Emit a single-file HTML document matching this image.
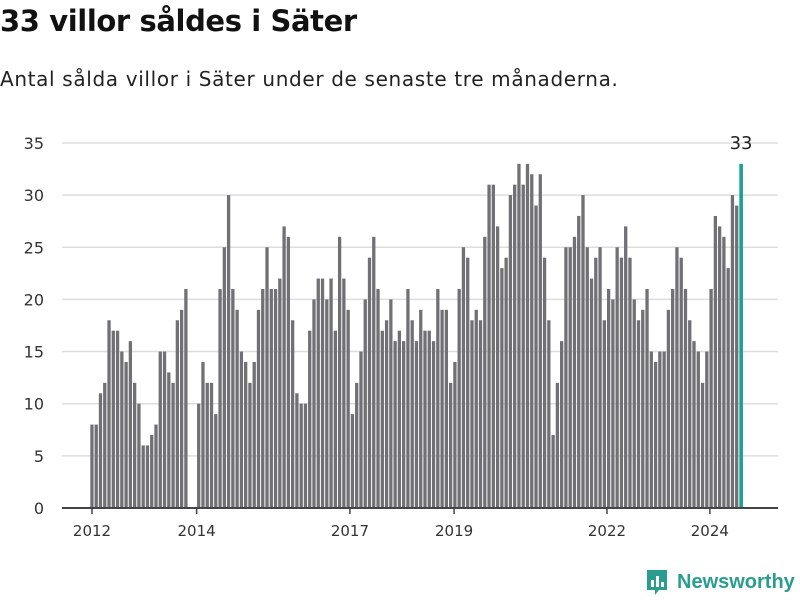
<!DOCTYPE html>
<html><head><meta charset="utf-8"><style>
body{margin:0;width:800px;height:600px;background:#fff;font-family:"Liberation Sans","DejaVu Sans",sans-serif;overflow:hidden;position:relative}
h1{position:absolute;left:0;top:4px;margin:0;font-family:"DejaVu Sans",sans-serif;font-size:29px;font-weight:bold;color:#111;letter-spacing:-0.4px}
.sub{position:absolute;left:0;top:67px;font-family:"DejaVu Sans",sans-serif;font-size:20px;color:#222;letter-spacing:0.65px}
.logo{position:absolute;left:645px;top:568px;display:flex;align-items:center;gap:8px;color:#2a9d8f;font-weight:bold;font-size:20px}
</style></head><body>
<h1>33 villor såldes i Säter</h1>
<div class="sub">Antal sålda villor i Säter under de senaste tre månaderna.</div>
<svg id="chart" width="800" height="600" style="position:absolute;left:0;top:0"></svg>
<div class="logo">
<svg width="24" height="28" viewBox="0 0 24 28"><path d="M2 2h20v20h-8l-4 5v-5H2z" fill="#2a9d8f"/><rect x="6" y="12" width="3" height="7" fill="#fff"/><rect x="11" y="8" width="3" height="11" fill="#fff"/><rect x="16" y="14" width="3" height="5" fill="#fff"/></svg>
<span>Newsworthy</span></div>
<script>
const values=[8,8,11,12,18,17,17,15,14,16,12,10,6,6,7,8,15,15,13,12,18,19,21,0,0,
10,14,12,12,9,21,25,30,21,19,15,14,12,
14,19,21,25,21,21,22,27,26,18,11,10,10,17,20,22,22,20,22,17,26,22,19,
9,12,15,20,24,26,21,17,18,20,16,17,16,21,18,16,19,17,17,16,21,19,19,
12,14,21,25,24,18,19,18,26,31,31,27,23,24,30,31,33,31,33,32,29,32,24,18,7,12,16,25,25,26,28,30,
25,22,24,25,18,21,20,25,24,27,24,20,18,19,21,15,14,15,15,19,21,25,24,21,18,16,15,12,15,21,28,27,26,23,30,29,33];
const yTicks=[0,5,10,15,20,25,30,35];
const xTickLabels=["2012","2014","2017","2019","2022","2024"];
const xTickIdx=[0,24.5,60.4,84.8,120.6,144.7];
const svg=document.getElementById('chart');
const NS='http://www.w3.org/2000/svg';
const x0=92,step=4.27,base=508,ppu=10.43;
const xs=i=>x0+i*step, ys=v=>base-v*ppu;
function mk(t,a){const e=document.createElementNS(NS,t);for(const k in a)e.setAttribute(k,a[k]);svg.appendChild(e);return e;}
yTicks.forEach(v=>{
 if(v>0){const g=mk('line',{x1:62,x2:778,y1:ys(v),y2:ys(v),stroke:'#ddd','stroke-width':1.5});
 
 }
 const t=mk('text',{x:44,y:ys(v)+6,'text-anchor':'end','font-size':16,fill:'#333','font-family':'DejaVu Sans, sans-serif'});t.textContent=v;
 
 
});
values.forEach((v,i)=>{
 const last=i===values.length-1;
 const r=mk('rect',{x:xs(i)-1.7,y:ys(v),width:last?3.6:3.3,height:v*ppu,fill:last?'#17a293':'#717075'});
 
 
});
const ax=mk('line',{x1:62,x2:778,y1:base,y2:base,stroke:'#444','stroke-width':2});


xTickLabels.forEach((l,k)=>{
 const x=xs(xTickIdx[k]);
 const tk=mk('line',{x1:x,x2:x,y1:base,y2:base+6,stroke:'#444','stroke-width':1.5});
 
 
 const t=mk('text',{x:x,y:base+28,'text-anchor':'middle','font-size':15,fill:'#333','font-family':'DejaVu Sans, sans-serif'});t.textContent=l;
 
 
});
const li=values.length-1;
const lab=mk('text',{x:xs(li),y:ys(values[li])-15,'text-anchor':'middle','font-size':18,fill:'#222','font-family':'DejaVu Sans, sans-serif'});lab.textContent=values[li];


</script>
</body></html>
